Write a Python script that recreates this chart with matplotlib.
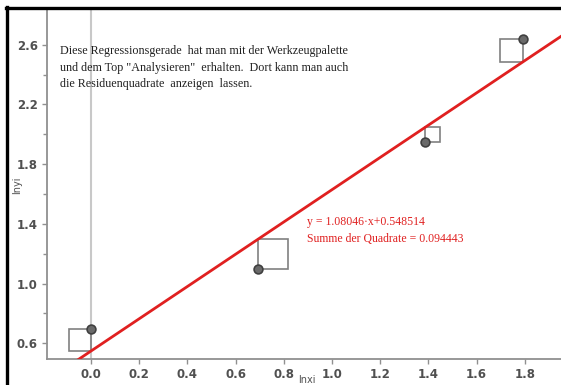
import matplotlib
matplotlib.use("Agg")
import matplotlib.pyplot as plt
from matplotlib.patches import Rectangle
from matplotlib.lines import Line2D
import numpy as np

# data: ln of x and y values
x_vals = [0.0, 0.693147, 1.386294, 1.791759]
y_vals = [0.693147, 1.098612, 1.945910, 2.639057]
slope = 1.08046
intercept = 0.548514
x_ticks = [0.0, 0.2, 0.4, 0.6, 0.8, 1.0, 1.2, 1.4, 1.6, 1.8]
y_ticks = [0.6, 1.0, 1.4, 1.8, 2.2, 2.6]
y_minor = [0.8, 1.2, 1.6, 2.0, 2.4]
note_lines = ["Diese Regressionsgerade  hat man mit der Werkzeugpalette",
              "und dem Top \"Analysieren\"  erhalten.  Dort kann man auch",
              "die Residuenquadrate  anzeigen  lassen."]
eq_text = "y = 1.08046\u00b7x+0.548514"
ss_text = "Summe der Quadrate = 0.094443"

W, H = 561, 385
fig = plt.figure(figsize=(W / 100, H / 100), dpi=100)
left_px, right_px, bottom_px, top_px = 46.7, 561, 358.7, 10
ax = fig.add_axes([left_px / W, 1 - bottom_px / H, (right_px - left_px) / W, (bottom_px - top_px) / H])
xlim = (-0.184, 1.950)
ylim = (0.497, 2.832)
ax.set_xlim(*xlim)
ax.set_ylim(*ylim)

# pixel scale to make squares square
px_per_x = (right_px - left_px) / (xlim[1] - xlim[0])
px_per_y = (bottom_px - top_px) / (ylim[1] - ylim[0])
ratio = px_per_y / px_per_x

# vertical line at x=0
ax.axvline(0, color="#c8c8c8", lw=1.5, zorder=1)

# residual squares
for xv, yv in zip(x_vals, y_vals):
    yl = slope * xv + intercept
    r = yv - yl
    side_y = abs(r)
    side_x = abs(r) * ratio
    x0 = xv - side_x if r > 0 else xv
    y0 = min(yv, yl)
    ax.add_patch(Rectangle((x0, y0), side_x, side_y, fill=False, ec="#808080", lw=1.2, zorder=2))

# regression line
xl = np.array(xlim)
ax.plot(xl, slope * xl + intercept, color="#e02020", lw=2, zorder=3)

# points
ax.scatter(x_vals, y_vals, s=40, color="#6a6a6a", edgecolors="#404040", linewidths=1.2, zorder=4)

# axes styling
for s in ["top", "right"]:
    ax.spines[s].set_visible(False)
for s in ["left", "bottom"]:
    ax.spines[s].set_color("#909090")
    ax.spines[s].set_linewidth(1.3)
ax.set_xticks(x_ticks)
ax.set_xticklabels([f"{v:.1f}" for v in x_ticks])
ax.set_yticks(y_ticks)
ax.set_yticklabels([f"{v:.1f}" for v in y_ticks])
ax.set_yticks(y_minor, minor=True)
ax.tick_params(axis="both", which="major", colors="#909090", labelcolor="#505050",
               labelsize=8.5, length=3.5, width=1, pad=3)
ax.tick_params(axis="y", which="minor", colors="#909090", length=3, width=1)
for lbl in ax.get_xticklabels() + ax.get_yticklabels():
    lbl.set_fontweight("bold")

fig.text(307 / W, 1 - 385 / H, "lnxi", fontsize=7, color="#505050", ha="center", va="bottom")
fig.text(17 / W, 1 - 185 / H, "lnyi", fontsize=7, color="#505050", ha="center", va="center", rotation=90)

# notes
for i, line in enumerate(note_lines):
    fig.text(60 / W, 1 - (54 + i * 16.5) / H, line, family="Liberation Serif", fontsize=8.7,
             color="#202020", ha="left", va="baseline")
fig.text(307 / W, 1 - 225 / H, eq_text, family="Liberation Serif", fontsize=8.5, color="#e02020", va="baseline")
fig.text(307 / W, 1 - 242 / H, ss_text, family="Liberation Serif", fontsize=8.5, color="#e02020", va="baseline")

# screenshot frame
fig.add_artist(Line2D([7 / W, 7 / W], [0, 1 - 7 / H], color="black", lw=2.4, transform=fig.transFigure))
fig.add_artist(Line2D([6 / W, 1], [1 - 7.5 / H, 1 - 7.5 / H], color="black", lw=2.4, transform=fig.transFigure))

fig.savefig("out.png", dpi=100)
